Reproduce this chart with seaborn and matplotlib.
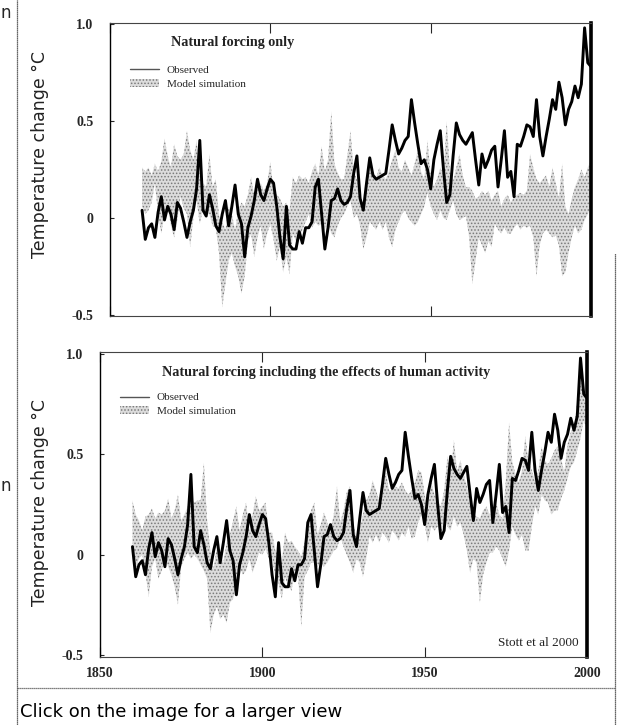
import matplotlib
matplotlib.use("Agg")
import matplotlib.pyplot as plt
import matplotlib.patches as mpatches
from matplotlib.lines import Line2D
import seaborn as sns

# ---- data ----
years = list(range(1860, 2001))

observed = [
    0.04, -0.11, -0.05, -0.03, -0.10, 0.03, 0.11, -0.01, 0.06, 0.02,   # 1860s
    -0.06, 0.08, 0.05, -0.02, -0.10, -0.02, 0.04, 0.15, 0.40, 0.04,    # 1870s
    0.01, 0.12, 0.05, -0.04, -0.07, 0.02, 0.09, -0.04, 0.06, 0.17,     # 1880s
    0.02, -0.03, -0.20, -0.05, 0.01, 0.09, 0.20, 0.12, 0.09, 0.15,     # 1890s
    0.20, 0.18, 0.06, -0.10, -0.21, 0.06, -0.14, -0.16, -0.16, -0.07,  # 1900s
    -0.13, -0.05, -0.05, -0.02, 0.16, 0.20, 0.02, -0.16, -0.05, 0.09,  # 1910s
    0.10, 0.15, 0.09, 0.07, 0.08, 0.11, 0.23, 0.32, 0.10, 0.04,        # 1920s
    0.18, 0.31, 0.22, 0.20, 0.21, 0.22, 0.23, 0.35, 0.48, 0.40,        # 1930s
    0.33, 0.36, 0.40, 0.42, 0.61, 0.49, 0.38, 0.28, 0.30, 0.25,        # 1940s
    0.15, 0.30, 0.38, 0.45, 0.25, 0.08, 0.12, 0.32, 0.49, 0.43,        # 1950s
    0.40, 0.38, 0.41, 0.44, 0.30, 0.17, 0.33, 0.26, 0.30, 0.35,        # 1960s
    0.37, 0.16, 0.30, 0.45, 0.21, 0.24, 0.11, 0.38, 0.37, 0.42,        # 1970s
    0.48, 0.47, 0.42, 0.61, 0.42, 0.32, 0.42, 0.51, 0.61, 0.56,        # 1980s
    0.70, 0.62, 0.48, 0.56, 0.60, 0.68, 0.62, 0.69, 0.98, 0.80,        # 1990s
    0.78,                                                              # 2000
]

# model range, natural forcing only
nat_lo = [
    0.06, 0.02, 0.04, 0.08, 0.18, 0.02, -0.08, 0.02, 0.06, -0.04,
    -0.10, -0.01, 0.11, 0.05, 0.02, -0.15, 0.00, 0.09, -0.03, 0.05,
    0.02, 0.02, -0.04, -0.05, -0.18, -0.46, -0.34, -0.22, -0.18, -0.25,
    -0.30, -0.39, -0.30, -0.12, -0.08, -0.20, -0.10, -0.04, -0.16, -0.08,
    -0.03, -0.11, -0.22, -0.15, -0.28, -0.20, -0.29, -0.08, -0.12, -0.11,
    -0.06, -0.02, 0.02, -0.05, -0.02, -0.04, -0.03, -0.06, -0.02, -0.08,
    -0.10, -0.04, 0.00, 0.02, 0.06, 0.09, 0.00, 0.02, -0.04, -0.16,
    -0.10, -0.02, -0.04, -0.06, -0.02, -0.06, -0.02, -0.10, -0.15, -0.06,
    -0.02, 0.02, 0.04, 0.00, -0.02, -0.04, -0.02, 0.02, 0.06, 0.13,
    0.06, 0.02, -0.01, 0.04, 0.00, -0.01, 0.04, 0.09, 0.02, -0.01,
    0.00, 0.01, -0.10, -0.34, -0.22, -0.10, -0.14, -0.18, -0.12, -0.15,
    -0.03, -0.06, -0.08, -0.05, -0.08, -0.08, -0.05, -0.03, -0.06, -0.04,
    -0.05, -0.04, -0.10, -0.30, -0.14, -0.08, -0.06, -0.08, -0.10, -0.09,
    -0.14, -0.30, -0.28, -0.18, -0.10, -0.04, -0.08, -0.06, -0.01, 0.02,
    0.06,
]
nat_hi = [
    0.26, 0.24, 0.26, 0.22, 0.28, 0.24, 0.29, 0.41, 0.32, 0.26,
    0.38, 0.32, 0.30, 0.33, 0.45, 0.35, 0.30, 0.40, 0.22, 0.18,
    0.16, 0.33, 0.16, 0.20, 0.01, -0.02, -0.06, 0.06, 0.02, -0.06,
    0.04, 0.08, 0.06, 0.12, 0.21, 0.11, 0.15, 0.18, 0.14, 0.18,
    0.29, 0.14, 0.12, 0.10, 0.06, 0.08, 0.04, 0.21, 0.18, 0.22,
    0.20, 0.21, 0.18, 0.24, 0.28, 0.22, 0.37, 0.24, 0.30, 0.55,
    0.28, 0.23, 0.20, 0.20, 0.32, 0.45, 0.24, 0.20, 0.14, 0.02,
    0.20, 0.32, 0.24, 0.21, 0.26, 0.22, 0.20, 0.24, 0.30, 0.35,
    0.26, 0.24, 0.30, 0.26, 0.22, 0.28, 0.35, 0.24, 0.20, 0.40,
    0.22, 0.16, 0.20, 0.26, 0.22, 0.50, 0.24, 0.19, 0.26, 0.33,
    0.22, 0.16, 0.16, 0.14, 0.10, 0.11, 0.14, 0.12, 0.14, 0.09,
    0.12, 0.14, 0.06, 0.10, 0.12, 0.08, 0.11, 0.12, 0.13, 0.12,
    0.14, 0.33, 0.26, 0.20, 0.18, 0.20, 0.22, 0.16, 0.26, 0.18,
    0.10, 0.28, 0.06, 0.02, 0.10, 0.16, 0.20, 0.25, 0.21, 0.26,
    0.30,
]

# model range, natural + human forcing
all_lo = [
    0.06, -0.07, -0.02, 0.00, -0.09, -0.21, -0.06, -0.02, -0.12, -0.08,
    -0.02, -0.06, -0.10, -0.16, -0.25, -0.06, -0.02, 0.01, -0.02, 0.00,
    -0.02, -0.05, -0.08, -0.12, -0.39, -0.30, -0.26, -0.32, -0.30, -0.34,
    -0.24, -0.22, -0.16, -0.06, -0.10, -0.08, -0.02, -0.09, -0.04, 0.01,
    0.00, 0.03, -0.02, -0.02, -0.11, -0.14, -0.22, -0.11, -0.16, -0.18,
    -0.08, -0.10, -0.36, -0.11, -0.08, -0.04, -0.04, -0.06, -0.04, -0.06,
    -0.04, -0.01, 0.02, 0.03, 0.09, 0.04, 0.00, -0.04, -0.09, -0.02,
    -0.04, -0.11, -0.02, 0.09, 0.06, 0.10, 0.06, 0.11, 0.09, 0.06,
    0.12, 0.10, 0.07, 0.11, 0.09, 0.14, 0.08, 0.09, 0.16, 0.20,
    0.15, 0.06, 0.14, 0.12, 0.14, 0.10, 0.19, 0.14, 0.12, 0.19,
    0.14, 0.16, 0.10, 0.02, -0.09, -0.02, -0.04, -0.24, -0.10, -0.04,
    0.01, 0.01, 0.04, 0.02, -0.02, -0.06, 0.02, 0.14, 0.10, 0.07,
    0.10, 0.02, 0.02, 0.14, 0.24, 0.20, 0.30, 0.27, 0.26, 0.20,
    0.22, 0.22, 0.28, 0.32, 0.38, 0.44, 0.46, 0.52, 0.58, 0.67,
    0.62,
]
all_hi = [
    0.27, 0.20, 0.17, 0.12, 0.19, 0.20, 0.23, 0.18, 0.21, 0.20,
    0.22, 0.28, 0.18, 0.22, 0.30, 0.17, 0.20, 0.24, 0.28, 0.26,
    0.27, 0.27, 0.46, 0.17, 0.02, -0.07, 0.04, 0.00, -0.04, 0.06,
    0.10, 0.17, 0.24, 0.12, 0.20, 0.26, 0.12, 0.20, 0.29, 0.22,
    0.24, 0.26, 0.11, 0.11, 0.02, 0.00, -0.04, 0.11, 0.06, 0.07,
    0.04, 0.02, -0.01, 0.06, 0.16, 0.22, 0.26, 0.10, 0.15, 0.21,
    0.16, 0.12, 0.20, 0.34, 0.16, 0.22, 0.31, 0.34, 0.16, 0.08,
    0.12, 0.20, 0.27, 0.30, 0.37, 0.32, 0.27, 0.32, 0.42, 0.32,
    0.32, 0.34, 0.33, 0.36, 0.32, 0.30, 0.32, 0.36, 0.42, 0.41,
    0.30, 0.22, 0.36, 0.30, 0.27, 0.24, 0.32, 0.49, 0.40, 0.57,
    0.42, 0.47, 0.40, 0.34, 0.25, 0.21, 0.19, 0.18, 0.22, 0.24,
    0.20, 0.21, 0.26, 0.20, 0.18, 0.37, 0.66, 0.46, 0.40, 0.36,
    0.42, 0.59, 0.46, 0.42, 0.37, 0.42, 0.54, 0.47, 0.45, 0.48,
    0.52, 0.54, 0.48, 0.41, 0.55, 0.61, 0.64, 0.76, 0.87, 0.80,
    0.78,
]

panel_titles = ["Natural forcing only",
                "Natural forcing including the effects of human activity"]
y_ticks = [-0.5, 0, 0.5, 1.0]
y_ticklabels = ["-0.5", "0", "0.5", "1.0"]
x_ticks = [1850, 1900, 1950, 2000]

# ---- style ----
sns.set_theme(style="white")
plt.rcParams['font.family'] = ['DejaVu Sans']
plt.rcParams['hatch.linewidth'] = 0.7

serif = 'Liberation Serif'
band_face = '#dcdcdc'
band_hatch = '#7a7a7a'

fig = plt.figure(figsize=(6.19, 7.25), dpi=100)
W, H = 619, 725


def px_axes(x0, y0, x1, y1):
    return fig.add_axes([x0 / W, 1 - y1 / H, (x1 - x0) / W, (y1 - y0) / H])


ax_top = px_axes(110, 23, 591, 316)
ax_bot = px_axes(100, 352, 587, 657)

panels = [
    (ax_top, nat_lo, nat_hi, (1851.7, 2000), (-0.505, 1.005), 0.932, 0.875),
    (ax_bot, all_lo, all_hi, (1850, 2000), (-0.51, 1.01), 0.934, 0.885),
]

for i, (ax, lo, hi, xl, yl, ty, ly) in enumerate(panels):
    ax.fill_between(years, lo, hi, facecolor=band_face, edgecolor=band_hatch,
                    hatch='.....', linewidth=0, zorder=1)
    sns.lineplot(x=years, y=observed, ax=ax, color='black', linewidth=2.1,
                 zorder=3)
    ax.set_xlim(*xl)
    ax.set_ylim(*yl)
    ax.set_xlabel("")
    ax.set_ylabel("")

    ax.set_yticks(y_ticks)
    ax.set_yticklabels(y_ticklabels, fontfamily=serif, fontweight='bold',
                       fontsize=10)
    ax.set_xticks(x_ticks)
    ax.tick_params(axis='y', direction='in', length=3, width=0.8,
                   left=True, pad=12)
    ax.tick_params(axis='x', direction='in', length=7, width=0.8,
                   top=True, bottom=True, pad=7)
    if i == 0:
        ax.set_xticklabels([])
    else:
        ax.set_xticklabels([str(x) for x in x_ticks], fontfamily=serif,
                           fontweight='bold', fontsize=10)

    for side in ['top', 'bottom']:
        ax.spines[side].set_linestyle((0, (1, 1)))
        ax.spines[side].set_color('#444444')
        ax.spines[side].set_linewidth(0.8)
    ax.spines['left'].set_color('black')
    ax.spines['left'].set_linewidth(1.0)
    ax.spines['right'].set_color('black')
    ax.spines['right'].set_linewidth(2.6)

    ax.text(0.127, ty, panel_titles[i], transform=ax.transAxes,
            fontfamily=serif, fontweight='bold', fontsize=10.2,
            va='center', ha='left', color='#222222')

    handles = [
        Line2D([0], [0], color='#555555', linewidth=1.0),
        mpatches.Patch(facecolor=band_face, edgecolor=band_hatch,
                       hatch='.....', linewidth=0),
    ]
    leg = ax.legend(handles, ['Observed', 'Model simulation'],
                    loc='upper left', bbox_to_anchor=(0.03, ly),
                    frameon=False, borderpad=0, handlelength=2.6,
                    handleheight=0.7, handletextpad=0.7, labelspacing=0.35,
                    prop={'family': serif, 'size': 8})

ax_bot.text(0.982, 0.046, "Stott et al 2000", transform=ax_bot.transAxes,
            fontfamily=serif, fontsize=9.5, ha='right', va='center',
            color='#222222')

# y axis labels
fig.text(40 / W, 1 - 155 / H, "Temperature change °C", rotation=90,
         ha='center', va='center', fontsize=12.5, color='#222222')
fig.text(40 / W, 1 - 503 / H, "Temperature change °C", rotation=90,
         ha='center', va='center', fontsize=12.5, color='#222222')

# page frame of the scanned page
fig.add_artist(Line2D([17 / W, 17 / W], [0, 1], color='#333333',
                      linewidth=0.9, linestyle=(0, (1, 0.6))))
fig.add_artist(Line2D([615 / W, 615 / W], [0, 1 - 253 / H], color='#333333',
                      linewidth=0.9, linestyle=(0, (1, 0.6))))
fig.add_artist(Line2D([17 / W, 615 / W], [1 - 688 / H, 1 - 688 / H],
                      color='#555555', linewidth=0.9,
                      linestyle=(0, (1, 0.6))))
fig.text(0.0, 1 - 13 / H, "n", fontsize=12, ha='left', va='center')
fig.text(0.0, 1 - 486 / H, "n", fontsize=12, ha='left', va='center')

fig.text(20 / W, 1 - 712 / H, "Click on the image for a larger view",
         fontsize=13, ha='left', va='center', color='black')

fig.savefig("out.png", dpi=100)
